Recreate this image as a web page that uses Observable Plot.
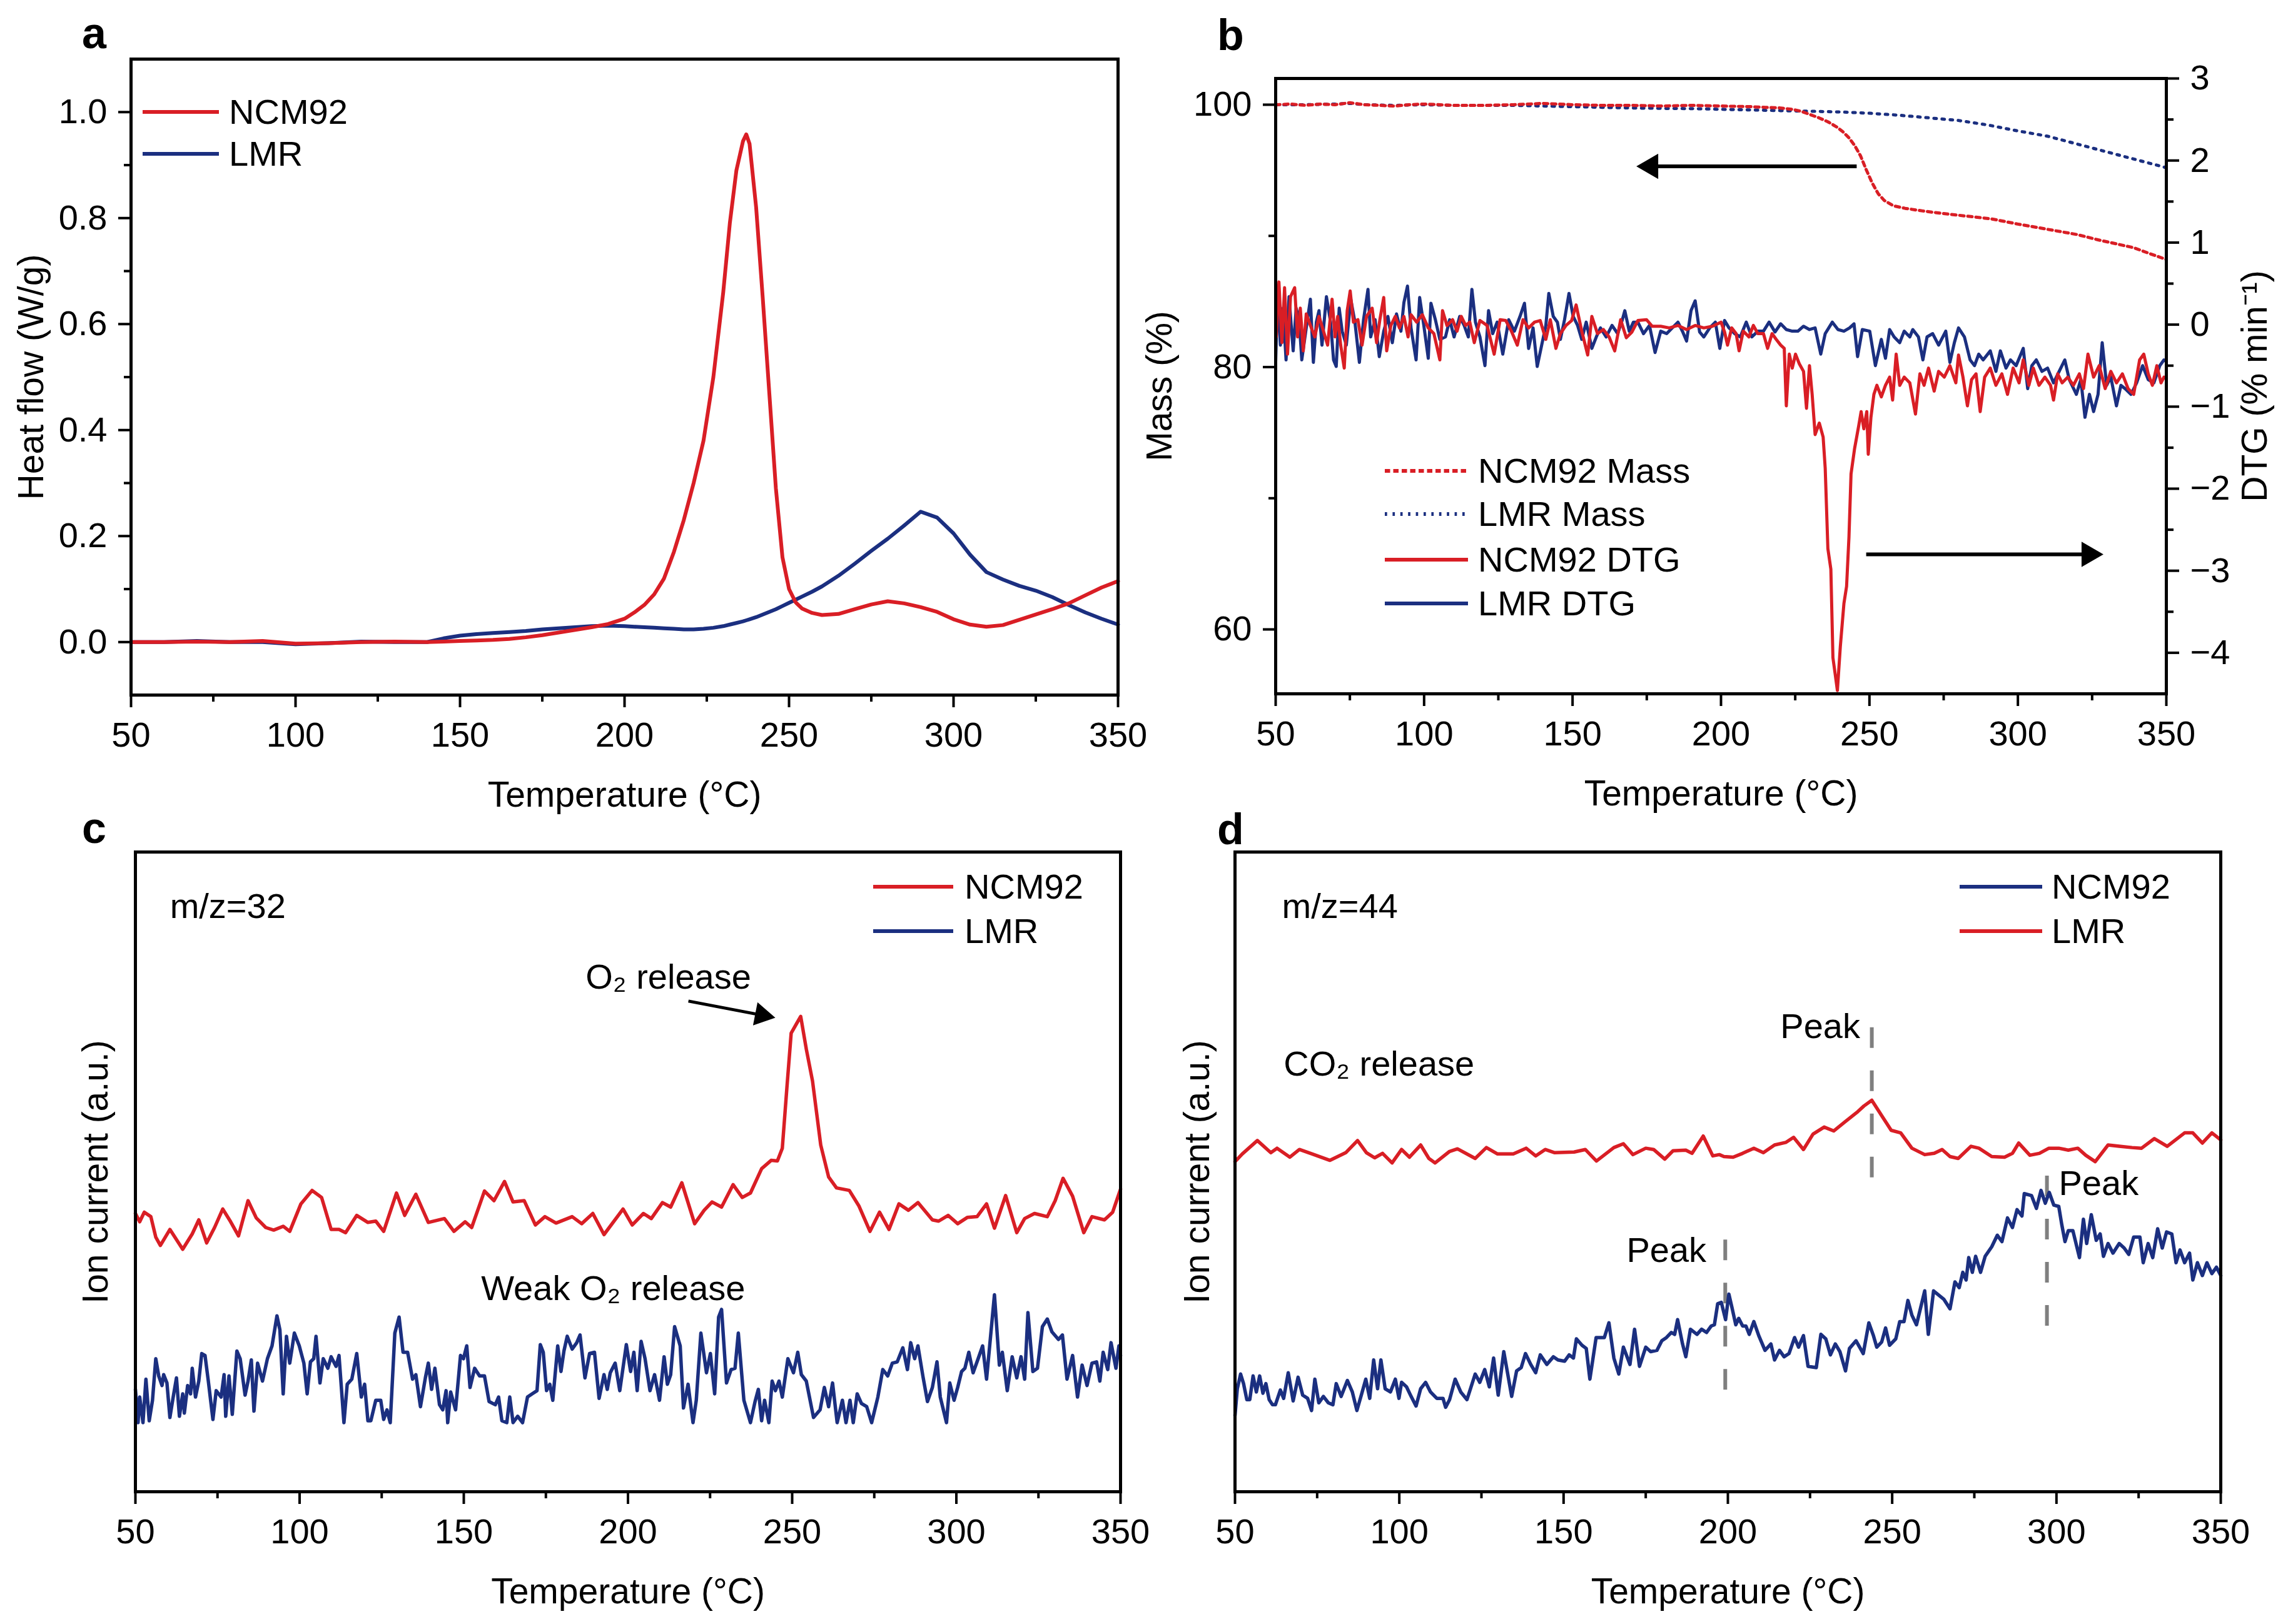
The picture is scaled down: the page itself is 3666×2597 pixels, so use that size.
<!DOCTYPE html>
<html>
<head>
<meta charset="utf-8">
<script src="https://cdn.jsdelivr.net/npm/d3@7"></script>
<script src="https://cdn.jsdelivr.net/npm/@observablehq/plot@0.6"></script>
<style>
  body { margin: 0; background: #fff; }
  #page { position: relative; width: 3666px; height: 2597px; background: #fff; overflow: hidden;
          font-family: "Liberation Sans", Arial, Helvetica, sans-serif; color: #000; }
  .letter { position: absolute; font-weight: bold; font-size: 70px; line-height: 70px; }
  .legtext { position: absolute; font-size: 56px; line-height: 56px; white-space: nowrap; }
</style>
</head>
<body>
<div id="page"></div>
<script>
// ---------------- ticks ----------------
const T_TICKS = [50, 100, 150, 200, 250, 300, 350];
const T_MINOR = [75, 125, 175, 225, 275, 325];
const HF_TICKS = [0, 0.2, 0.4, 0.6, 0.8, 1.0];
const HF_MINOR = [0.1, 0.3, 0.5, 0.7, 0.9];
const MASS_TICKS = [60, 80, 100];
const MASS_MINOR = [70, 90];
const DTG_TICKS = [-4, -3, -2, -1, 0, 1, 2, 3];
const DTG_MINOR = [-3.5, -2.5, -1.5, -0.5, 0.5, 1.5, 2.5];

// ---------------- panel a : DSC heat flow ----------------
const aTemp = [50,60,70,80,90,100,110,120,130,140,
  145,150,155,160,165,170,175,180,185,190,195,200,
  203,206,209,212,215,218,221,224,227,230,
  232,234,236,237,238,
  240,242,244,246,248,250,252,254,
  257,260,
  265,270,275,280,285,290,295,300,305,310,315,320,325,330,335,340,345,350];
const aNcm92 = [0.0,0.0,0.001,0.0,0.002,-0.003,-0.002,0.0,0.001,0.0,
  0.001,0.002,0.003,0.004,0.006,0.009,0.013,0.018,0.023,0.028,0.034,0.044,
  0.056,0.07,0.09,0.12,0.17,0.23,0.30,0.38,0.50,0.66,
  0.79,0.89,0.945,0.958,0.94,
  0.82,0.65,0.47,0.29,0.16,0.10,0.075,0.063,
  0.055,0.051,
  0.053,0.062,0.071,0.077,0.073,0.066,0.057,0.043,0.033,0.029,0.032,0.042,0.052,0.062,0.073,0.088,0.103,0.115];
const aLmr = [0.0,0.0,0.002,0.0,0.0,-0.004,-0.002,0.001,0.0,0.0,
  0.007,0.012,0.015,0.017,0.019,0.021,0.024,0.026,0.028,0.030,0.031,0.030,
  0.029,0.028,0.027,0.026,0.025,0.024,0.024,0.025,0.027,0.030,
  0.033,0.036,0.039,0.041,0.043,
  0.047,0.052,0.057,0.062,0.068,0.074,0.080,0.086,
  0.095,0.105,
  0.125,0.148,0.172,0.195,0.220,0.246,0.235,0.205,0.165,0.132,0.118,0.106,0.097,0.085,0.070,0.056,0.044,0.033];

// ---------------- panel b : TGA mass and DTG ----------------
const bMassNcm = [[50,100],[55,100.05],[60,99.95],[65,100.05],[70,100.0],[75,100.15],[80,100.0],[85,99.95],[90,99.9],[95,100.0],
  [100,100.05],[110,99.95],[120,99.95],[130,100.0],[140,100.1],[150,100.0],[160,99.95],[170,99.95],[180,99.9],[190,99.95],
  [200,99.9],[210,99.85],[215,99.8],[220,99.75],[224,99.65],[227,99.5],[230,99.25],[233,99.0],[236,98.7],[239,98.3],
  [241,97.95],[243,97.5],[245,96.9],[247,96.1],[249,95.0],[251,94.0],[253,93.2],[255,92.7],[258,92.3],[262,92.1],
  [268,91.9],[275,91.7],[283,91.5],[291,91.3],[300,90.9],[310,90.5],[320,90.1],[327,89.7],[333,89.4],[339,89.1],[345,88.6],[350,88.2]];
const bMassLmr = [[50,100],[60,100.0],[70,100.05],[75,100.1],[80,100.0],[90,99.95],[100,100.0],[110,99.95],[120,99.95],[130,99.95],
  [140,99.9],[150,99.85],[160,99.8],[170,99.75],[180,99.72],[190,99.7],[200,99.65],[210,99.6],[220,99.55],[230,99.5],
  [240,99.45],[250,99.35],[260,99.2],[270,99.0],[280,98.8],[290,98.45],[300,98.0],[310,97.6],[320,97.0],[330,96.4],[340,95.8],[350,95.2]];
const bDtgNcm = [[50.2,-0.15],[51.1,0.52],[52.1,-0.22],[53.0,0.45],[54.0,-0.36],[55.0,0.34],[56.4,0.45],[57.4,-0.15],[58.3,0.20],[59.3,-0.32],
  [60.3,0.13],[61.7,-0.01],[63.2,-0.15],[64.6,0.10],[66.1,-0.08],[67.5,-0.25],[69.0,0.31],[70.0,-0.15],[70.9,0.10],[71.9,-0.25],
  [73.1,-0.53],[74.1,0.17],[75.1,0.41],[76.2,0.03],[77.7,0.06],[79.1,-0.25],[80.6,0.10],[82.5,0.20],[84.0,-0.22],[85.1,0.06],
  [86.4,0.33],[87.4,-0.32],[88.8,-0.01],[90.3,0.10],[91.7,-0.04],[93.2,0.10],[94.6,-0.15],[95.6,0.12],[97.5,0.03],[99.4,0.12],
  [101.4,-0.04],[103.3,-0.11],[105.3,-0.43],[106.2,0.17],[107.7,-0.01],[109.6,0.06],[111.1,-0.08],[112.5,0.10],[114.0,-0.01],[115.4,0.03],
  [116.9,-0.22],[118.8,0.05],[121.2,-0.01],[123.6,-0.36],[125.6,0.06],[127.5,0.05],[129.4,-0.08],[131.4,-0.25],[133.3,0.06],[135.2,-0.04],
  [137.2,0.03],[139.1,0.05],[141.0,-0.18],[142.5,0.06],[144.4,-0.29],[145.9,-0.11],[147.8,-0.01],[149.7,0.05],[151.2,0.24],[153.1,-0.08],
  [155.1,-0.37],[156.5,0.10],[158.4,-0.11],[160.4,-0.06],[162.3,-0.15],[164.2,-0.32],[166.2,0.06],[168.1,-0.16],[170.0,-0.09],[172.0,0.05],
  [174.9,0.06],[176.8,-0.02],[179.7,-0.02],[182.6,-0.04],[185.5,-0.01],[188.4,-0.06],[191.3,-0.01],[194.2,-0.04],[197.1,-0.02],[200.0,0.03],
  [201.2,-0.09],[202.2,-0.25],[203.6,-0.04],[205.1,-0.11],[206.1,-0.32],[207.5,-0.08],[209.4,-0.15],[210.9,-0.01],[212.4,-0.11],[214.3,-0.11],
  [215.7,-0.29],[217.2,-0.11],[218.6,-0.18],[220.1,-0.25],[221.3,-0.29],[222.0,-0.99],[223.0,-0.36],[224.0,-0.53],[225.1,-0.36],[226.4,-0.48],
  [227.8,-0.57],[228.8,-1.02],[229.8,-0.50],[230.7,-0.85],[231.7,-1.34],[233.1,-1.20],[234.4,-1.37],[235.1,-1.75],[236.0,-2.73],[237.0,-2.98],
  [237.7,-4.06],[238.5,-4.27],[239.2,-4.46],[240.2,-3.92],[241.4,-3.40],[242.3,-3.19],[243.1,-2.59],[243.8,-1.82],[245.0,-1.51],[246.4,-1.23],
  [247.2,-1.06],[248.1,-1.27],[249.1,-1.06],[249.6,-1.58],[250.5,-1.13],[251.5,-0.85],[252.5,-0.74],[254.0,-0.88],[255.4,-0.74],[256.8,-0.64],
  [257.8,-0.92],[259.0,-0.36],[260.2,-0.74],[261.7,-0.64],[263.6,-0.71],[265.5,-1.09],[267.0,-0.60],[268.4,-0.74],[269.9,-0.53],[271.8,-0.81],
  [273.3,-0.57],[275.2,-0.64],[277.1,-0.50],[279.1,-0.71],[280.0,-0.37],[281.5,-0.64],[283.0,-0.99],[284.4,-0.67],[285.9,-0.60],[287.3,-1.06],
  [288.8,-0.64],[290.7,-0.53],[292.6,-0.74],[294.6,-0.60],[296.5,-0.85],[298.4,-0.53],[300.4,-0.71],[301.8,-0.43],[303.7,-0.74],[305.2,-0.53],
  [307.1,-0.74],[309.1,-0.64],[311.0,-0.74],[312.0,-0.92],[313.4,-0.60],[314.9,-0.71],[316.8,-0.64],[318.7,-0.74],[320.7,-0.60],[322.1,-0.78],
  [323.6,-0.36],[325.5,-0.64],[327.4,-0.50],[329.4,-0.78],[331.3,-0.57],[333.2,-0.71],[335.2,-0.60],[337.1,-0.78],[339.0,-0.85],[341.0,-0.43],
  [342.4,-0.36],[343.9,-0.60],[345.3,-0.74],[346.8,-0.50],[348.2,-0.71],[349.2,-0.64],[350,-0.66]];
const bDtgLmr = [[50.0,-0.46],[50.6,0.38],[51.6,-0.25],[52.5,0.20],[53.5,-0.43],[54.5,0.34],[55.9,-0.32],[56.9,0.20],[57.9,0.06],[58.8,-0.43],
  [60.3,-0.04],[61.7,0.31],[62.7,-0.46],[63.7,0.03],[64.6,0.17],[65.6,-0.25],[67.1,0.34],[68.5,0.03],[69.5,-0.43],[70.4,-0.51],
  [71.4,0.20],[72.4,-0.08],[73.8,-0.25],[75.3,0.31],[76.7,0.03],[78.2,-0.46],[79.6,0.06],[81.1,0.43],[82.0,-0.15],[83.5,0.06],
  [84.9,-0.39],[86.4,-0.08],[87.8,0.10],[89.3,-0.22],[90.7,0.13],[92.2,-0.08],[93.2,0.27],[94.4,0.47],[95.6,-0.04],[97.3,-0.43],
  [98.5,0.33],[99.9,-0.01],[101.4,-0.41],[102.3,0.26],[103.8,0.06],[105.3,-0.18],[107.2,-0.15],[108.6,0.06],[110.1,-0.15],[112.0,0.10],
  [113.5,-0.01],[114.9,-0.15],[116.1,0.43],[117.3,0.03],[118.8,-0.15],[120.5,-0.50],[121.7,0.17],[123.1,-0.11],[124.6,0.03],[126.5,-0.36],
  [128.5,0.06],[130.4,-0.08],[132.3,0.10],[133.8,0.26],[135.2,-0.29],[136.7,-0.04],[138.1,-0.51],[139.6,-0.25],[141.0,-0.01],[142.0,0.38],
  [143.5,0.10],[144.9,0.03],[145.9,-0.18],[147.3,0.06],[148.8,0.38],[150.2,0.10],[151.7,-0.01],[153.1,-0.18],[154.6,0.03],[156.5,-0.29],
  [158.0,-0.15],[159.4,-0.04],[161.3,-0.15],[163.3,-0.01],[165.2,-0.11],[166.7,0.05],[167.6,0.17],[169.1,-0.08],[170.5,0.03],[172.0,0.03],
  [173.9,-0.11],[175.9,-0.01],[177.8,-0.34],[179.7,-0.08],[181.7,-0.11],[183.6,-0.04],[185.5,0.03],[187.0,-0.08],[188.4,-0.20],[189.9,0.17],
  [191.3,0.29],[192.8,-0.09],[194.2,-0.15],[196.2,-0.04],[198.1,0.03],[199.6,-0.29],
  [201.2,0.05],[202.7,-0.04],[204.6,-0.11],[206.5,-0.15],[208.5,0.03],[210.4,-0.15],[212.4,-0.08],[214.3,-0.08],[216.2,0.03],[218.2,-0.09],
  [220.1,0.01],[222.0,-0.06],[224.0,-0.08],[225.9,-0.08],[227.8,-0.02],[229.8,-0.06],[231.7,-0.04],[233.6,-0.36],[235.1,-0.11],[237.5,0.03],
  [239.4,-0.06],[241.4,-0.08],[243.3,-0.04],[244.8,0.01],[246.0,-0.39],[247.6,-0.06],[250.1,-0.08],[252.0,-0.50],[254.0,-0.18],[255.4,-0.41],
  [256.8,-0.06],[258.3,-0.15],[260.2,-0.22],[261.7,-0.08],[263.6,-0.15],[264.6,-0.06],[266.5,-0.15],[268.0,-0.43],[269.4,-0.15],[271.3,-0.11],
  [273.3,-0.25],[275.7,-0.08],[277.1,-0.46],[278.6,-0.22],[280.0,-0.04],[282.0,-0.15],[283.9,-0.43],[285.4,-0.50],[286.8,-0.36],[288.3,-0.43],
  [290.7,-0.32],[292.6,-0.57],[294.1,-0.32],[296.0,-0.53],[297.5,-0.43],[299.4,-0.50],[301.8,-0.29],[303.3,-0.78],[304.7,-0.50],[306.2,-0.43],
  [308.1,-0.57],[310.0,-0.53],[312.0,-0.71],[313.9,-0.57],[315.8,-0.43],[317.3,-0.67],[319.7,-0.85],[321.2,-0.67],[322.6,-1.13],[324.1,-0.85],
  [325.5,-1.06],[327.0,-0.85],[328.4,-0.22],[329.9,-0.74],[331.3,-0.64],[333.2,-0.99],[334.7,-0.74],[336.1,-0.78],[338.1,-0.85],[340.0,-0.71],
  [342.0,-0.50],[343.9,-0.67],[345.8,-0.71],[347.8,-0.50],[349.2,-0.43],[350,-0.45]];

// ---------------- panel c : m/z = 32 (arbitrary units) ----------------
const cNcm92 = [[50,43.5],[51.3,42.2],[52.7,43.7],[54.7,43.0],[56.2,39.8],[57.6,38.5],[60.5,41.0],[64.4,37.9],[67.3,40.3],[69.3,42.5],
  [71.7,38.9],[74.1,41.3],[76.6,44.2],[79.0,42.2],[81.4,40.0],[84.3,45.5],[86.8,42.8],[89.7,41.3],[92.1,40.9],[95.0,41.5],
  [97.0,40.7],[100.4,45.0],[103.8,47.1],[106.7,46.0],[109.6,41.0],[112.0,41.0],[114.0,40.5],[117.4,43.2],[120.8,42.1],[123.2,42.3],
  [125.6,40.7],[129.5,46.7],[132.0,43.2],[135.4,46.5],[139.2,42.1],[144.1,42.7],[147.0,40.7],[150.4,42.2],[152.4,41.3],[156.3,47.0],
  [159.2,45.5],[162.4,48.5],[165.0,45.3],[168.4,45.5],[171.8,41.7],[174.7,43.0],[178.1,42.0],[183.0,43.0],[185.9,41.9],[189.3,43.5],
  [192.7,40.2],[198.5,44.2],
  [201.3,41.7],[204.7,43.5],[207.1,42.7],[210.5,45.2],[213.0,44.5],[216.4,48.3],[220.3,41.9],[223.2,44.0],[225.6,45.3],[228.5,44.5],
  [232.0,48.0],[234.8,46.0],[237.3,46.7],[240.7,50.5],[243.6,51.8],[245.5,51.7],[247.0,53.7],[248.4,63.2],[249.7,71.7],[252.6,74.3],
  [254.3,69.2],[256.2,64.2],[258.7,54.2],[261.1,49.2],[263.5,47.5],[267.4,47.1],[270.3,44.7],[273.7,40.7],[276.6,43.7],[279.5,41.0],
  [282.5,45.0],[285.4,44.0],[288.3,45.2],[292.7,42.5],[294.6,42.3],[297.5,43.2],[300.4,41.9],[303.4,42.9],[306.3,43.0],[309.2,45.0],
  [311.6,41.2],[315.0,46.3],[318.4,40.5],[320.8,42.7],[323.8,43.5],[327.7,43.0],[330.1,45.5],[332.5,49.0],[335.4,46.2],[338.8,40.5],
  [341.3,43.0],[345.1,42.5],[347.6,43.7],[350,47.3]];
const cLmr = [[50.0,16.0],[50.8,10.8],[51.3,14.8],[52.3,10.8],[53.2,17.6],[54.2,11.1],[55.2,14.3],[56.2,20.8],[57.1,18.1],[58.1,16.6],
  [58.6,18.3],[59.6,17.0],[60.5,11.6],[61.5,14.8],[62.5,17.8],[63.4,11.8],[64.4,15.3],[64.9,12.3],[65.9,16.6],[66.8,15.3],
  [67.3,19.3],[68.3,14.8],[69.3,17.3],[70.2,21.6],[71.2,21.3],[72.2,17.3],[73.6,11.3],[74.6,15.8],[76.1,14.8],[77.0,18.3],
  [77.5,11.8],[78.5,18.1],[79.5,12.1],[80.9,22.0],[81.9,20.8],[83.4,15.1],[84.3,17.3],[85.3,20.6],[86.1,12.6],[87.2,20.1],
  [88.7,17.3],[90.2,20.8],[91.6,22.8],[93.1,27.5],[94.0,25.3],[95.0,15.3],[96.0,24.3],[97.0,20.1],[98.4,24.8],[99.9,22.8],
  [101.3,20.1],[102.3,15.3],[103.3,20.3],[104.3,20.8],[105.0,24.3],[106.2,17.0],[107.2,20.8],[108.6,19.3],[109.6,21.1],[111.1,19.6],
  [112.0,21.3],[113.5,10.8],[114.5,16.8],[115.9,17.6],[117.4,21.6],[118.8,14.8],[119.8,16.8],[120.8,11.1],[121.7,11.1],[123.2,14.3],
  [124.7,14.3],[125.6,11.3],[126.6,12.8],[127.6,10.8],[129.0,24.8],[130.3,27.3],[131.5,21.8],[132.9,21.8],[134.4,17.6],[135.4,18.3],
  [136.8,13.3],[138.3,17.8],[139.2,20.1],[140.2,16.0],[141.2,19.3],[142.6,13.6],[143.6,12.8],[144.6,15.8],[145.1,10.8],[146.0,15.6],
  [147.5,12.8],[149.0,21.3],[149.9,20.8],[150.9,22.8],[151.9,16.3],[153.3,19.3],[154.8,18.1],[156.3,18.1],[157.7,14.1],[159.6,13.6],
  [160.6,14.8],[161.6,11.1],[163.1,10.8],[164.0,14.8],[165.0,10.8],[166.4,11.8],[167.9,10.8],[169.4,14.8],[170.8,15.3],[172.3,15.8],
  [173.3,23.0],[174.2,21.8],[175.2,15.8],[176.2,16.8],[177.1,14.3],[178.6,22.8],[179.6,18.8],[180.5,22.0],[181.5,24.3],[183.0,22.3],
  [184.4,23.3],[185.4,24.5],[186.9,17.8],[188.3,21.6],[189.8,21.8],[191.2,14.6],[192.7,18.3],[193.7,16.0],[194.6,18.6],[196.1,20.1],
  [197.5,15.8],[199.5,23.0],
  [200.8,18.8],[201.8,21.8],[202.8,15.8],[204.0,23.5],[205.2,20.8],[206.7,15.8],[208.1,18.3],[209.6,14.3],[211.0,21.1],[212.0,16.8],
  [213.0,18.3],[214.2,25.8],[215.9,22.8],[216.9,13.1],[218.3,16.8],[219.8,10.8],[220.8,14.3],[222.2,24.8],[223.9,18.6],[225.1,21.6],
  [226.4,15.3],[227.6,27.3],[228.5,28.5],[230.0,17.0],[231.4,19.1],[232.6,19.3],[233.6,24.8],[235.3,14.3],[237.3,10.8],[238.7,14.1],
  [239.7,16.0],[240.7,11.1],[241.6,14.3],[242.9,10.8],[243.9,17.3],[244.9,15.8],[246.0,17.3],[247.0,14.8],[248.7,20.8],[250.4,18.6],
  [251.7,21.8],[252.8,18.3],[254.3,17.3],[256.5,11.6],[258.5,12.8],[259.8,16.3],[261.1,13.3],[262.3,17.0],[263.7,10.8],[265.3,14.3],
  [266.4,10.8],[267.6,14.3],[268.6,10.8],[269.8,15.3],[271.1,13.8],[272.7,13.3],[274.2,10.8],[276.1,14.8],[277.6,19.1],[279.1,18.1],
  [280.5,20.1],[282.0,20.3],[283.7,22.5],[285.1,19.1],[286.1,23.3],[287.3,20.8],[288.3,22.8],[289.8,18.1],[291.2,14.1],[292.7,16.3],
  [294.1,20.3],[295.1,14.8],[297.0,10.8],[298.0,17.0],[299.3,14.3],[300.4,16.3],[301.6,18.8],[302.6,19.3],[303.8,21.8],[305.1,18.6],
  [306.5,20.6],[308.0,22.8],[309.2,17.6],[311.6,30.8],[313.1,19.8],[314.0,21.8],[315.5,15.8],[317.0,21.1],[318.4,17.8],[319.7,21.1],
  [320.8,17.6],[321.8,28.0],[323.3,18.8],[324.7,19.3],[326.2,25.8],[327.7,27.0],[329.1,25.0],[331.1,23.8],[332.3,24.5],[333.7,17.6],
  [335.4,21.3],[336.9,14.8],[338.3,19.8],[339.8,16.6],[341.3,20.1],[342.7,20.3],[343.7,17.3],[344.7,21.8],[346.1,19.1],[347.1,23.3],
  [348.6,19.3],[349.5,22.8],[350,21.3]];

// ---------------- panel d : m/z = 44 (arbitrary units) ----------------
const dNcm92 = [[50,11.9],[50.7,16.1],[51.7,18.4],[52.6,16.9],[53.6,14.4],[54.5,14.4],[55.5,18.1],[56.5,15.6],[57.5,18.1],[58.5,15.4],
  [59.4,16.9],[60.4,14.4],[61.4,13.6],[62.3,13.6],[63.8,15.9],[64.8,14.6],[66.2,18.6],[67.7,14.2],[69.2,17.9],[70.6,15.1],
  [72.1,14.6],[73.3,12.7],[74.3,17.6],[75.5,13.9],[76.9,14.9],[78.4,13.9],[79.8,13.6],[80.8,16.9],[82.3,14.9],[84.2,17.4],
  [85.7,15.6],[87.1,12.7],[88.6,15.4],[89.8,17.6],[91.0,14.6],[92.2,20.6],[93.4,16.1],[94.4,20.6],[95.7,16.1],[97.3,15.6],
  [98.8,17.6],[99.9,14.6],[100.7,17.1],[102.2,16.4],[103.6,14.9],[105.1,13.4],[106.5,16.1],[108.0,17.1],[109.5,15.6],[111.4,14.6],
  [113.3,14.6],[114.1,13.2],[115.3,14.4],[117.0,17.6],[118.7,15.6],[120.6,14.4],[123.1,18.4],[124.5,17.1],[126.0,19.1],[127.4,16.4],
  [128.7,20.9],[130.1,15.1],[131.8,21.9],[133.0,18.4],[134.2,14.9],[135.7,18.9],[137.1,19.4],[138.4,21.6],[140.0,19.9],[141.5,18.6],
  [142.9,21.4],[144.9,19.9],[146.9,21.1],[148.3,20.6],[150.3,20.4],[151.7,21.4],[153.0,20.9],[153.9,23.9],[155.6,22.9],[156.9,22.4],
  [158.0,17.6],[159.9,24.1],[162.4,24.1],[163.8,26.4],[165.3,20.9],[166.8,18.4],[168.2,22.6],[170.2,19.9],[171.6,25.4],[173.1,19.6],
  [175.0,22.6],[176.5,21.9],[178.4,22.1],[179.9,23.6],[181.3,24.1],[182.8,24.9],[183.8,24.6],[184.7,26.9],[186.2,23.1],[187.2,21.1],
  [188.6,25.4],[190.6,24.6],[192.0,25.4],[193.5,24.9],[194.9,25.9],[195.9,26.1],[196.9,29.4],[198.0,29.6],[199.3,26.9],[200.3,30.9],
  [201.2,28.9],
  [202.4,26.1],[203.3,27.1],[204.5,25.9],[205.5,25.9],[206.5,24.6],[207.9,26.6],[209.4,24.4],[211.3,22.1],[213.1,23.1],[214.2,20.6],
  [215.7,22.1],[217.1,21.1],[218.6,21.6],[220.3,24.1],[221.5,22.6],[223.0,24.4],[224.4,19.6],[226.9,19.4],[228.3,24.6],[229.8,23.9],
  [231.2,21.4],[232.7,23.1],[234.1,21.9],[235.8,18.9],[237.0,22.4],[239.0,23.6],[241.2,21.6],[242.9,26.4],[244.3,24.4],[245.3,22.6],
  [246.8,23.4],[248.0,25.6],[249.2,22.9],[251.1,23.9],[252.3,26.6],[253.6,26.6],[254.8,29.9],[256.0,27.6],[257.4,26.1],[259.9,31.4],
  [261.0,24.6],[262.6,31.4],[265.7,30.1],[267.6,28.6],[269.1,32.8],[270.4,31.9],[271.5,34.3],[272.5,33.1],[273.3,36.6],[274.4,34.3],
  [275.4,36.8],[276.9,34.3],[278.3,36.8],[280.3,38.3],[282.0,40.1],[283.4,39.1],[285.1,42.8],[286.6,41.3],[288.0,44.1],[289.5,43.1],
  [290.2,46.6],[292.4,46.3],[293.9,44.3],[295.3,47.1],[296.6,45.1],[297.8,46.8],[299.2,44.8],[300.7,44.6],[301.6,41.8],[302.6,39.1],
  [303.6,40.8],[305.0,40.8],[307.0,36.6],[308.2,42.6],[309.2,38.8],[310.6,43.3],[312.1,39.3],[313.3,40.3],[314.3,36.8],[315.7,38.8],
  [317.2,37.3],[319.1,38.8],[320.6,38.1],[322.0,37.1],[323.5,39.8],[325.4,39.8],[326.4,35.8],[327.9,38.8],[329.3,36.6],[330.8,41.1],
  [332.2,38.1],[333.5,40.6],[335.1,40.3],[336.4,35.8],[337.6,37.8],[339.0,35.8],[340.5,37.3],[341.5,33.1],[342.9,35.8],[344.4,33.8],
  [345.8,35.8],[347.3,34.1],[348.7,35.1],[350,33.8]];
const dLmr = [[50,51.6],[52.2,52.8],[56.8,54.9],[60.9,53.0],[62.8,53.7],[66.7,52.3],[69.6,53.5],[73.5,52.8],[78.9,51.8],[83.7,53.0],
  [87.3,54.9],[90.0,53.0],[92.5,52.2],[94.9,52.9],[97.8,51.4],[100.7,53.5],[103.1,52.3],[106.5,54.2],[109.0,52.1],[110.9,51.4],
  [115.3,53.2],[117.7,53.6],[123.1,52.1],[126.5,53.8],[129.9,52.8],[134.7,52.8],[138.6,53.7],[141.5,52.5],[144.4,53.5],[147.3,53.0],
  [153.2,53.1],[156.6,53.5],[160.0,51.7],[165.3,53.8],[168.2,54.4],[171.1,52.7],[175.0,53.7],[177.4,53.5],[180.8,52.0],[183.3,53.3],
  [187.2,53.4],[189.1,52.9],[192.5,55.6],[195.4,52.5],[197.4,52.7],[198.8,52.4],
  [201.6,52.3],[204.5,52.9],[207.9,53.7],[210.8,53.0],[214.2,54.2],[217.6,54.6],[220.0,55.4],[223.0,53.5],[225.9,55.9],[229.3,57.0],
  [232.2,56.4],[235.6,57.8],[239.5,59.4],[241.4,60.3],[243.8,61.2],[246.8,58.8],[249.7,56.5],[252.6,56.1],[256.0,53.7],[259.9,52.7],
  [262.8,52.9],[265.2,53.5],[267.6,52.4],[270.1,52.1],[274.0,54.0],[276.4,53.7],[280.3,52.4],[284.2,52.3],[286.6,52.9],[288.5,54.5],
  [291.9,52.6],[294.8,52.9],[297.7,53.7],[300.7,53.7],[303.6,53.4],[306.5,53.7],[308.9,52.6],[311.8,51.6],[315.7,54.2],[319.1,54.0],
  [323.0,53.8],[325.9,53.7],[329.8,55.2],[333.7,54.0],[339.0,56.1],[341.5,56.1],[344.4,54.5],[347.3,56.1],[350,55.0]];

// ---------------- annotations ----------------
const cNotes = [
  {t: 60.5, v: 91.4, label: "m/z=32", anchor: "start"},
  {t: 212.3, v: 80.4, label: "O\u2082 release", anchor: "middle"},
  {t: 195.5, v: 31.7, label: "Weak O\u2082 release", anchor: "middle"}
];
const cArrows = [{t1: 218.4, v1: 76.7, t2: 240.8, v2: 74.5, angle: 101}];
const dNotes = [
  {t: 64.3, v: 91.4, label: "m/z=44", anchor: "start"},
  {t: 64.8, v: 66.8, label: "CO\u2082 release", anchor: "start"},
  {t: 228.1, v: 72.7, label: "Peak", anchor: "middle"},
  {t: 300.7, v: 48.1, label: "Peak", anchor: "start"},
  {t: 181.3, v: 37.7, label: "Peak", anchor: "middle"}
];
const dPeakLines = [
  {t: 243.8, v1: 49.1, v2: 73.0},
  {t: 297.1, v1: 25.9, v2: 50.0},
  {t: 199.2, v1: 15.9, v2: 40.2}
];
const bArrowsMass = [{t1: 245.7, t2: 176.4, mass: 95.3, angle: -90}];
const bArrowsDtg = [{t1: 248.9, t2: 323.9, dtg: -2.80, angle: 90}];

// ---------------- styling ----------------
const RED = "#d91e25", BLUE = "#1b2f80", GRAY = "#7f7f7f";
const FONT = '"Liberation Sans", Arial, Helvetica, sans-serif';
const FS = 56;
const X_TITLE = "Temperature (\u00b0C)";
const baseStyle = {background: "transparent", color: "black", fontFamily: FONT, fontSize: FS + "px", overflow: "visible"};

// panel b : right DTG axis mapped onto the mass scale
const B_DOMAIN = [55.09, 102.0];
const DTG_DOMAIN = [-4.5, 3];
const B_K = (B_DOMAIN[1] - B_DOMAIN[0]) / (DTG_DOMAIN[1] - DTG_DOMAIN[0]);
const toB = d => B_DOMAIN[0] + (d - DTG_DOMAIN[0]) * B_K;
const fromB = y => DTG_DOMAIN[0] + (y - B_DOMAIN[0]) / B_K;
const minus = n => (n < 0 ? "\u2212" + Math.abs(n) : String(n));

const page = document.getElementById("page");
function place(el, left, top) {
  el.style.position = "absolute";
  el.style.left = left + "px";
  el.style.top = top + "px";
  page.appendChild(el);
}

function xAxes() {
  return [
    Plot.axisX({ticks: T_TICKS, tickSize: 20, tickPadding: 23, strokeWidth: 4, fontSize: FS, label: null, tickFormat: d => String(d)}),
    Plot.axisX({ticks: T_MINOR, tickSize: 11, strokeWidth: 4, label: null, tickFormat: () => ""})
  ];
}
function xTitle() {
  return Plot.text([X_TITLE], {text: d => d, frameAnchor: "bottom", dy: 160, lineAnchor: "middle", textAnchor: "middle", fontSize: 57});
}
function yTitle(label, anchor, dx) {
  return Plot.text([label], {text: d => d, frameAnchor: anchor, dx, rotate: -90, textAnchor: "middle", lineAnchor: "middle", fontSize: 57});
}
function frame() { return Plot.frame({stroke: "black", strokeWidth: 5}); }

// ---------------- panel a ----------------
const aRows = aTemp.map((t, i) => ({t, ncm: aNcm92[i], lmr: aLmr[i]}));
const plotA = Plot.plot({
  width: 1850, height: 1300, marginLeft: 209, marginRight: 63, marginTop: 94, marginBottom: 189,
  style: baseStyle,
  x: {domain: [50, 350]}, y: {domain: [-0.1, 1.1]},
  marks: [
    Plot.line(aRows, {x: "t", y: "lmr", stroke: BLUE, strokeWidth: 6}),
    Plot.line(aRows, {x: "t", y: "ncm", stroke: RED, strokeWidth: 6}),
    frame(),
    ...xAxes(),
    Plot.axisY({ticks: HF_TICKS, tickSize: 20, tickPadding: 18, strokeWidth: 4, fontSize: FS, label: null, tickFormat: d3.format(".1f")}),
    Plot.axisY({ticks: HF_MINOR, tickSize: 11, strokeWidth: 4, label: null, tickFormat: () => ""}),
    xTitle(),
    yTitle("Heat flow (W/g)", "left", -159)
  ]
});
place(plotA, 0, 0);

// ---------------- panel b ----------------
const plotB = Plot.plot({
  width: 1816, height: 1300, marginLeft: 189, marginRight: 203, marginTop: 125, marginBottom: 191,
  style: baseStyle,
  x: {domain: [50, 350]}, y: {domain: B_DOMAIN},
  marks: [
    Plot.line(bDtgLmr, {x: d => d[0], y: d => toB(d[1]), stroke: BLUE, strokeWidth: 5}),
    Plot.line(bDtgNcm, {x: d => d[0], y: d => toB(d[1]), stroke: RED, strokeWidth: 5}),
    Plot.line(bMassLmr, {x: d => d[0], y: d => d[1], stroke: BLUE, strokeWidth: 5, strokeDasharray: "4,9"}),
    Plot.line(bMassNcm, {x: d => d[0], y: d => d[1], stroke: RED, strokeWidth: 5, strokeDasharray: "7,6"}),
    Plot.link(bArrowsMass, {x1: "t1", x2: "t2", y1: "mass", y2: "mass", stroke: "black", strokeWidth: 6}),
    Plot.dot(bArrowsMass, {x: "t2", y: "mass", symbol: "triangle", r: 15, fill: "black", stroke: "none", rotate: "angle"}),
    Plot.link(bArrowsDtg, {x1: "t1", x2: "t2", y1: d => toB(d.dtg), y2: d => toB(d.dtg), stroke: "black", strokeWidth: 6}),
    Plot.dot(bArrowsDtg, {x: "t2", y: d => toB(d.dtg), symbol: "triangle", r: 15, fill: "black", stroke: "none", rotate: "angle"}),
    frame(),
    ...xAxes(),
    Plot.axisY({ticks: MASS_TICKS, tickSize: 20, tickPadding: 18, strokeWidth: 4, fontSize: FS, label: null, tickFormat: d => String(d)}),
    Plot.axisY({ticks: MASS_MINOR, tickSize: 11, strokeWidth: 4, label: null, tickFormat: () => ""}),
    Plot.axisY({ticks: DTG_TICKS.map(toB), anchor: "right", tickSize: 20, tickPadding: 18, strokeWidth: 4, fontSize: FS, label: null,
                tickFormat: y => minus(Math.round(fromB(y)))}),
    Plot.axisY({ticks: DTG_MINOR.map(toB), anchor: "right", tickSize: 11, strokeWidth: 4, label: null, tickFormat: () => ""}),
    xTitle(),
    yTitle("Mass (%)", "left", -185),
    yTitle("DTG (% min\u207b\u00b9)", "right", 142)
  ]
});
place(plotB, 1850, 0);

// ---------------- panel c ----------------
const plotC = Plot.plot({
  width: 1850, height: 1297, marginLeft: 216, marginRight: 59, marginTop: 62, marginBottom: 212,
  style: baseStyle,
  x: {domain: [50, 350]}, y: {domain: [0, 100], axis: null},
  marks: [
    Plot.line(cLmr, {x: d => d[0], y: d => d[1], stroke: BLUE, strokeWidth: 5.5}),
    Plot.line(cNcm92, {x: d => d[0], y: d => d[1], stroke: RED, strokeWidth: 5.5}),
    Plot.text(cNotes.filter(d => d.anchor === "start"), {x: "t", y: "v", text: "label", textAnchor: "start", fontSize: FS}),
    Plot.text(cNotes.filter(d => d.anchor === "middle"), {x: "t", y: "v", text: "label", textAnchor: "middle", fontSize: FS}),
    Plot.link(cArrows, {x1: "t1", y1: "v1", x2: "t2", y2: "v2", stroke: "black", strokeWidth: 5}),
    Plot.dot(cArrows, {x: "t2", y: "v2", symbol: "triangle", r: 14, fill: "black", stroke: "none", rotate: "angle"}),
    frame(),
    ...xAxes(),
    xTitle(),
    yTitle("Ion current (a.u.)", "left", -63)
  ]
});
place(plotC, 0, 1300);

// ---------------- panel d ----------------
const plotD = Plot.plot({
  width: 1816, height: 1297, marginLeft: 124, marginRight: 116, marginTop: 62, marginBottom: 212,
  style: baseStyle,
  x: {domain: [50, 350]}, y: {domain: [0, 100], axis: null},
  marks: [
    Plot.ruleX(dPeakLines, {x: "t", y1: "v1", y2: "v2", stroke: GRAY, strokeWidth: 6, strokeDasharray: "33,36"}),
    Plot.line(dNcm92, {x: d => d[0], y: d => d[1], stroke: BLUE, strokeWidth: 5.5}),
    Plot.line(dLmr, {x: d => d[0], y: d => d[1], stroke: RED, strokeWidth: 5.5}),
    Plot.text(dNotes.filter(d => d.anchor === "start"), {x: "t", y: "v", text: "label", textAnchor: "start", fontSize: FS}),
    Plot.text(dNotes.filter(d => d.anchor === "middle"), {x: "t", y: "v", text: "label", textAnchor: "middle", fontSize: FS}),
    frame(),
    ...xAxes(),
    xTitle(),
    yTitle("Ion current (a.u.)", "left", -60)
  ]
});
place(plotD, 1850, 1300);

// ---------------- legends (HTML) ----------------
const legendA = [{label: "NCM92", color: RED}, {label: "LMR", color: BLUE}];
const legendB = [
  {label: "NCM92 Mass", color: RED, dash: "8.5,5"},
  {label: "LMR Mass", color: BLUE, dash: "3.7,8.7"},
  {label: "NCM92 DTG", color: RED},
  {label: "LMR DTG", color: BLUE}
];
const legendC = [{label: "NCM92", color: RED}, {label: "LMR", color: BLUE}];
const legendD = [{label: "NCM92", color: BLUE}, {label: "LMR", color: RED}];
const legendLayout = [
  {items: legendA, x1: 228, x2: 350, tx: 366, ys: [179, 246]},
  {items: legendB, x1: 2214, x2: 2347, tx: 2363, ys: [753, 822, 895, 965]},
  {items: legendC, x1: 1396, x2: 1524, tx: 1542, ys: [1418, 1489]},
  {items: legendD, x1: 3133, x2: 3265, tx: 3280, ys: [1418, 1489]}
];
const NS = "http://www.w3.org/2000/svg";
for (const L of legendLayout) {
  L.items.forEach((it, i) => {
    const y = L.ys[i];
    const svg = document.createElementNS(NS, "svg");
    svg.setAttribute("width", L.x2 - L.x1);
    svg.setAttribute("height", 12);
    const ln = document.createElementNS(NS, "line");
    ln.setAttribute("x1", 0); ln.setAttribute("x2", L.x2 - L.x1);
    ln.setAttribute("y1", 6); ln.setAttribute("y2", 6);
    ln.setAttribute("stroke", it.color);
    ln.setAttribute("stroke-width", 6);
    if (it.dash) ln.setAttribute("stroke-dasharray", it.dash);
    svg.appendChild(ln);
    place(svg, L.x1, y - 6);
    const t = document.createElement("div");
    t.className = "legtext";
    t.textContent = it.label;
    place(t, L.tx, y - 28);
  });
}

// ---------------- panel letters ----------------
const letters = [
  {ch: "a", x: 131, y: 18},
  {ch: "b", x: 1946, y: 21},
  {ch: "c", x: 131, y: 1289},
  {ch: "d", x: 1946, y: 1291}
];
for (const L of letters) {
  const d = document.createElement("div");
  d.className = "letter";
  d.textContent = L.ch;
  place(d, L.x, L.y);
}
</script>
</body>
</html>
